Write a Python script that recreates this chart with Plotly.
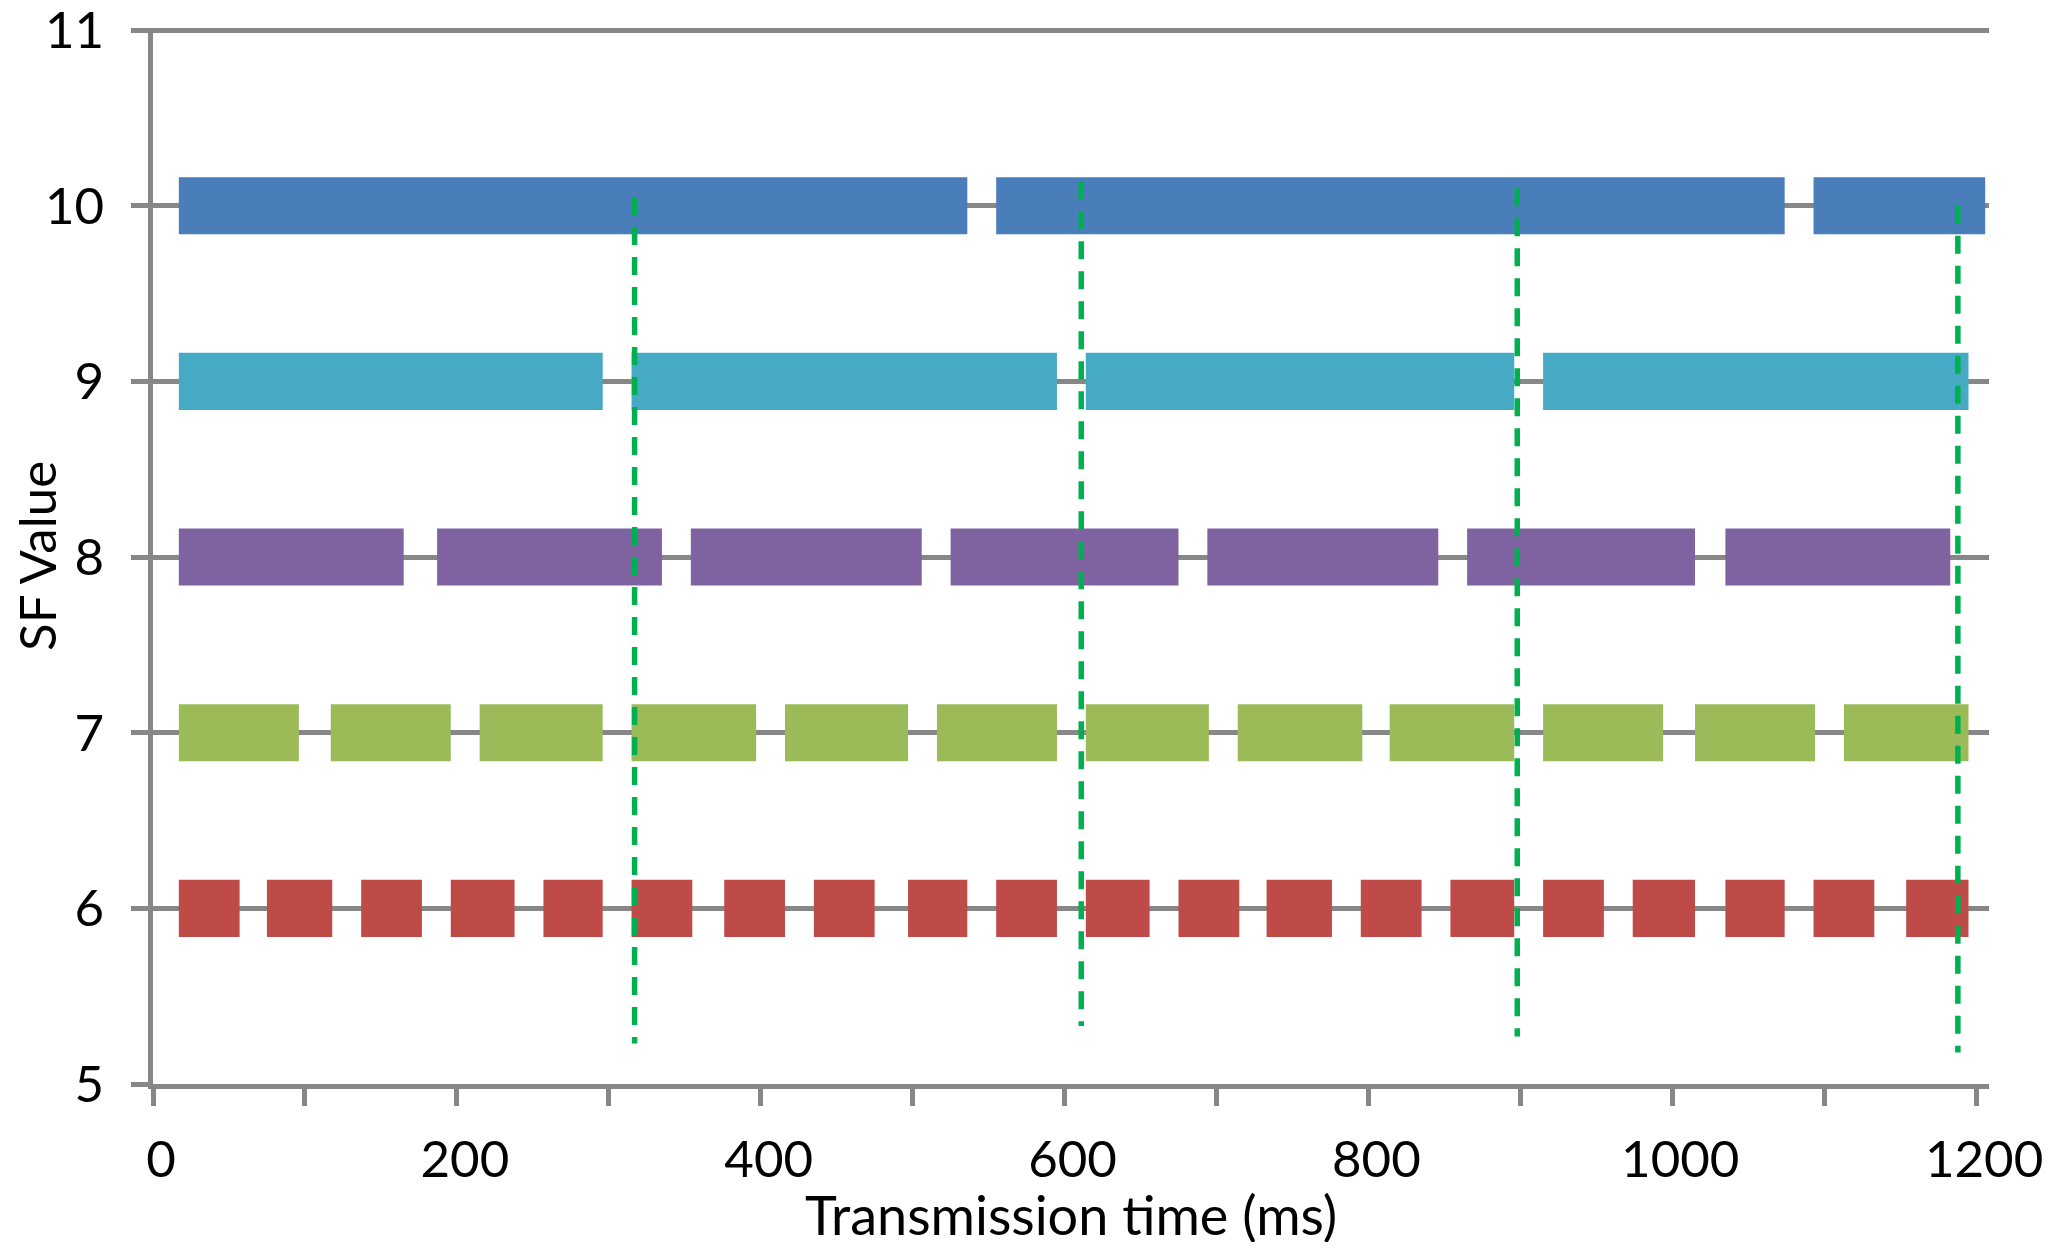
import plotly.graph_objects as go

# SF values (rows) and transmission segments (start, end) in ms
sf_values = [10, 9, 8, 7, 6]
sf_colors = ["#4A7EBB", "#46AAC5", "#7F63A1", "#9BBB59", "#BE4B48"]

sf10_segments = [(17, 536), (555, 1074), (1093, 1206)]
sf9_segments = [(17, 296), (315, 595), (614, 896), (915, 1195)]
sf8_segments = [(17, 165), (187, 335), (354, 506), (525, 675), (694, 846),
                (865, 1015), (1035, 1183)]
sf7_segments = [(17, 96), (117, 196), (215, 296), (315, 397), (416, 497),
                (516, 595), (614, 695), (714, 796), (814, 896), (915, 994),
                (1015, 1094), (1113, 1195)]
sf6_segments = [(17, 57), (75, 118), (137, 177), (196, 238), (257, 296),
                (315, 355), (376, 416), (435, 475), (497, 536), (555, 595),
                (614, 656), (675, 715), (733, 776), (795, 835), (854, 896),
                (915, 955), (974, 1015), (1035, 1074), (1093, 1133), (1154, 1195)]

all_segments = [sf10_segments, sf9_segments, sf8_segments, sf7_segments, sf6_segments]

# Green dashed markers
marker_x = [317, 611, 898, 1188]
marker_top = [10.05, 10.14, 10.10, 10.0]
marker_bottom = [5.23, 5.33, 5.27, 5.18]

x_tick_vals = [0, 200, 400, 600, 800, 1000, 1200]
y_tick_vals = [5, 6, 7, 8, 9, 10, 11]

x_title = "Transmission time (ms)"
y_title = "SF Value"

GRAY = "#878787"
FONT = "Lato"
FSIZE = 51

fig = go.Figure()

for sf, color, segs in zip(sf_values, sf_colors, all_segments):
    fig.add_trace(go.Bar(
        orientation="h",
        y=[sf] * len(segs),
        x=[e - s for s, e in segs],
        base=[s for s, e in segs],
        width=0.325,
        marker=dict(color=color, line=dict(width=0)),
        name=f"SF{sf}",
        showlegend=False,
    ))

for xv, yt, yb in zip(marker_x, marker_top, marker_bottom):
    fig.add_trace(go.Scatter(
        x=[xv, xv], y=[yt, yb], mode="lines",
        line=dict(color="#00B050", width=5.5, dash="18px,12px"),
        showlegend=False,
    ))

fig.update_layout(
    width=2035, height=1234, autosize=False,
    margin=dict(l=145, r=54, t=20, b=158, autoexpand=False),
    plot_bgcolor="white", paper_bgcolor="white",
    barmode="overlay",
    font=dict(family=FONT, size=FSIZE, color="black"),
    annotations=[
        dict(text=x_title, xref="paper", yref="paper", x=0.5, y=0,
             xanchor="center", yanchor="middle", yshift=-130, showarrow=False,
             font=dict(family=FONT, size=54, color="black")),
        dict(text=y_title, xref="paper", yref="paper", x=0, y=0.5,
             xanchor="center", yanchor="middle", xshift=-117, textangle=-90,
             showarrow=False, font=dict(family=FONT, size=FSIZE, color="black")),
    ],
)

fig.update_xaxes(
    range=[0, 1208.5],
    tickvals=x_tick_vals,
    ticks="outside", ticklen=17, tickwidth=4.5, tickcolor=GRAY,
    minor=dict(dtick=100, tick0=0, ticks="outside", ticklen=17, tickwidth=4.5,
               tickcolor=GRAY, showgrid=False),
    showline=True, linecolor=GRAY, linewidth=4.5,
    showgrid=False, zeroline=False,
    automargin=False,
    ticklabeloverflow="allow",
    ticklabelstandoff=10,
    ticklabelshift=8,
    tickfont=dict(family=FONT, size=FSIZE),
)

fig.update_yaxes(
    range=[5, 11.012],
    tickvals=y_tick_vals,
    ticks="outside", ticklen=17, tickwidth=4.5, tickcolor=GRAY,
    showline=True, linecolor=GRAY, linewidth=4.5,
    showgrid=True, gridcolor=GRAY, gridwidth=4.5,
    zeroline=False,
    automargin=False,
    ticklabeloverflow="allow",
    ticklabelstandoff=17,
    tickfont=dict(family=FONT, size=FSIZE),
)

fig.write_html("out.html")
